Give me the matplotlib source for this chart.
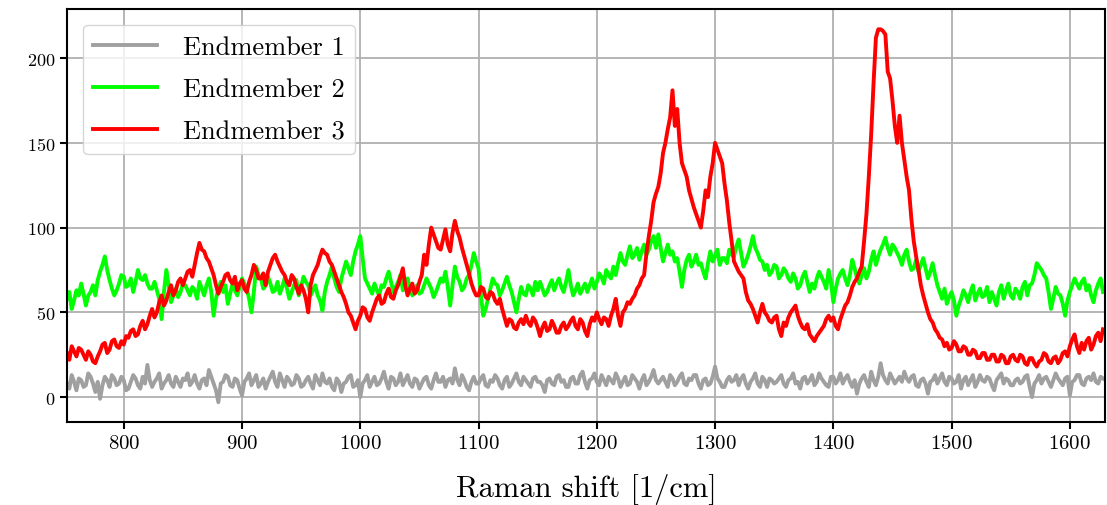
import numpy as np
import matplotlib
matplotlib.use("Agg")
import matplotlib.pyplot as plt

plt.rcParams['font.family'] = ['cmr10', 'DejaVu Serif']
plt.rcParams['mathtext.fontset'] = 'cm'
plt.rcParams['axes.formatter.use_mathtext'] = True

# Raman shift grid [1/cm], one sample every 2 units (rows cover 100 units each)
shift = np.arange(752, 1629, 2)

endmember_1 = [
    8, 5, 13, 9, 4, 11, 10, 6, 7, 14, 12, 8, 3, 9, -1, 7, 12, 10, 6, 13, 11, 7, 8, 12, 10,
    4, 5, 9, 13, 11, 7, 5, 12, 8, 19, 10, 6, 9, 11, 14, 5, 8, 10, 13, 8, 6, 12, 9, 6, 11,
    10, 14, 7, 9, 13, 8, 5, 10, 11, 7, 16, 12, 8, 4, -3, 8, 9, 13, 12, 7, 6, 11, 10, 5, 1,
    9, 11, 14, 7, 10, 13, 6, 8, 11, 5, 9, 12, 15, 9, 6, 14, 10, 6, 12, 10, 7, 8, 13, 11, 6,
    7, 10, 12, 8, 5, 13, 10, 7, 14, 9, 8, 11, 6, 4, 11, 9, 3, 8, 9, 12, 13, 6, 7, 10, 0,
    8, 10, 13, 6, 9, 12, 7, 8, 11, 15, 9, 5, 12, 11, 7, 9, 14, 7, 10, 13, 8, 6, 11, 10, 5,
    8, 11, 12, 7, 5, 10, 14, 9, 9, 12, 6, 10, 11, 8, 17, 10, 7, 13, 10, 6, 4, 9, 12, 8, 8,
    11, 13, 7, 6, 10, 9, 13, 11, 7, 5, 10, 12, 6, 8, 11, 14, 9, 7, 12, 10, 8, 6, 11, 12, 9,
    9, 7, 3, 10, 11, 8, 7, 12, 13, 9, 10, 6, 6, 11, 12, 8, 8, 13, 15, 9, 5, 10, 11, 14, 9,
    7, 13, 10, 7, 12, 10, 8, 14, 11, 6, 9, 12, 7, 8, 13, 11, 9, 5, 10, 13, 7, 9, 12, 16, 10,
    8, 10, 12, 9, 6, 13, 11, 7, 9, 12, 14, 8, 7, 11, 10, 13, 13, 8, 5, 10, 11, 7, 8, 12, 18,
    11, 9, 6, 6, 10, 12, 9, 10, 13, 7, 11, 13, 8, 5, 9, 11, 14, 8, 6, 12, 10, 6, 11, 10, 8,
    9, 11, 13, 8, 6, 10, 11, 14, 8, 9, 5, 11, 12, 8, 10, 13, 7, 9, 14, 11, 9, 7, 6, 12, 12,
    8, 10, 14, 8, 11, 13, 9, 6, 10, 2, 8, 11, 13, 9, 6, 15, 10, 7, 12, 20, 13, 10, 8, 14, 11,
    8, 10, 12, 9, 15, 11, 9, 12, 13, 7, 6, 10, 11, 8, 2, 9, 10, 13, 8, 11, 14, 9, 7, 12, 11,
    8, 9, 13, 5, 10, 12, 7, 10, 13, 6, 9, 13, 10, 9, 12, 11, 7, 4, 10, 12, 14, 8, 11, 10, 7,
    7, 10, 11, 8, 9, 12, 13, 6, 0, 8, 10, 13, 8, 11, 12, 9, 6, 10, 14, 11,
    9, 7, 11, 12, 1, 9, 10, 13, 13, 8, 7, 11, 12, 10, 14, 9, 8, 12, 11,
]

endmember_2 = [
    58, 62, 52, 57, 63, 60, 67, 61, 54, 60, 62, 66, 60, 69, 74, 78, 83, 75, 69, 64, 60, 63, 67, 72, 71,
    65, 66, 70, 62, 68, 75, 70, 69, 72, 67, 64, 64, 68, 63, 58, 46, 62, 75, 66, 56, 60, 64, 59, 62, 67,
    66, 63, 60, 65, 63, 58, 68, 64, 60, 66, 70, 62, 48, 58, 64, 68, 62, 66, 55, 61, 67, 63, 60, 65, 70,
    67, 64, 58, 50, 62, 77, 72, 70, 64, 66, 71, 67, 62, 63, 68, 61, 65, 70, 64, 58, 62, 66, 69, 60, 65,
    71, 68, 66, 60, 63, 66, 60, 57, 51, 62, 68, 72, 77, 70, 65, 62, 70, 75, 80, 76, 72, 80, 86, 90, 95,
    82, 70, 67, 64, 61, 67, 63, 60, 66, 65, 70, 74, 68, 62, 65, 68, 72, 63, 67, 70, 64, 60, 63, 66, 61,
    62, 66, 70, 67, 64, 59, 62, 66, 70, 68, 74, 65, 54, 66, 77, 71, 68, 63, 65, 70, 72, 78, 85, 80, 76,
    60, 48, 52, 58, 64, 70, 67, 66, 60, 63, 67, 71, 66, 62, 56, 50, 58, 65, 61, 60, 66, 64, 60, 68, 63,
    68, 64, 60, 62, 66, 69, 63, 67, 70, 65, 62, 68, 75, 66, 60, 63, 67, 61, 64, 67, 62, 66, 70, 64, 68,
    73, 71, 67, 75, 72, 70, 77, 72, 79, 85, 80, 78, 84, 89, 82, 84, 88, 81, 86, 90, 84, 87, 92, 95, 88,
    96, 88, 80, 85, 90, 84, 86, 80, 82, 74, 65, 75, 81, 84, 77, 80, 84, 78, 79, 74, 70, 79, 86, 80, 83,
    87, 78, 82, 82, 79, 87, 84, 83, 89, 93, 85, 77, 80, 84, 89, 95, 88, 85, 81, 80, 75, 78, 72, 74, 78,
    77, 70, 72, 76, 74, 70, 68, 73, 70, 64, 66, 71, 74, 68, 62, 67, 64, 70, 74, 71, 68, 64, 75, 68, 56,
    64, 70, 73, 75, 70, 66, 72, 81, 76, 70, 67, 72, 76, 70, 74, 81, 86, 78, 83, 87, 90, 94, 88, 84, 90,
    88, 85, 82, 78, 84, 87, 80, 75, 76, 81, 74, 78, 82, 76, 70, 74, 79, 72, 66, 62, 58, 64, 55, 59, 62,
    57, 48, 54, 58, 63, 60, 56, 62, 66, 57, 61, 64, 59, 60, 65, 56, 62, 58, 54, 62, 66, 58, 63, 67, 60,
    58, 64, 62, 58, 65, 68, 60, 66, 67, 72, 79, 77, 75, 72, 70, 62, 52, 58, 65, 61,
    60, 55, 48, 57, 62, 66, 70, 67, 64, 68, 70, 63, 66, 60, 56, 63, 67, 70, 62,
]

endmember_3 = [
    26, 22, 30, 27, 24, 29, 28, 25, 22, 27, 25, 21, 20, 24, 27, 31, 32, 26, 28, 33, 34, 30, 29, 33, 31,
    36, 35, 39, 40, 36, 37, 42, 45, 40, 43, 48, 52, 47, 50, 56, 60, 54, 57, 62, 66, 60, 63, 68, 70, 66,
    70, 74, 75, 71, 78, 85, 91, 87, 86, 82, 80, 76, 72, 66, 61, 65, 68, 72, 73, 69, 67, 71, 63, 67, 69,
    64, 62, 68, 72, 78, 75, 70, 70, 73, 66, 74, 78, 82, 84, 80, 77, 74, 72, 68, 66, 72, 70, 65, 61, 66,
    63, 58, 50, 66, 72, 75, 78, 83, 87, 85, 84, 80, 78, 74, 70, 66, 62, 59, 55, 50, 48, 44, 40, 45, 48,
    53, 52, 47, 45, 50, 54, 58, 60, 55, 56, 61, 64, 59, 58, 63, 66, 71, 76, 66, 60, 64, 67, 61, 63, 68,
    72, 84, 78, 90, 100, 96, 92, 88, 87, 93, 99, 90, 86, 97, 104, 98, 94, 88, 83, 78, 73, 67, 63, 60, 60,
    65, 64, 59, 58, 62, 61, 57, 55, 58, 52, 47, 42, 46, 45, 41, 40, 44, 46, 43, 48, 44, 42, 47, 45, 41,
    36, 41, 44, 39, 40, 45, 42, 38, 38, 42, 44, 40, 42, 45, 47, 42, 40, 46, 44, 39, 36, 43, 47, 45, 50,
    46, 43, 47, 46, 42, 48, 52, 58, 48, 42, 50, 52, 56, 55, 58, 60, 64, 66, 70, 72, 85, 95, 104, 115, 120,
    124, 132, 144, 150, 158, 165, 181, 160, 170, 150, 138, 134, 130, 122, 117, 112, 108, 104, 100, 110, 122, 118, 130, 138, 150,
    146, 142, 138, 126, 116, 103, 92, 80, 77, 74, 72, 70, 62, 57, 55, 52, 48, 44, 50, 55, 50, 48, 45, 44, 47,
    48, 40, 36, 44, 42, 47, 50, 52, 54, 48, 44, 41, 40, 43, 37, 35, 33, 36, 38, 40, 42, 46, 48, 45, 47,
    42, 40, 46, 50, 54, 56, 60, 65, 68, 70, 74, 77, 92, 108, 130, 155, 185, 212, 217, 217, 216, 214, 192, 188, 175,
    160, 150, 166, 150, 140, 130, 122, 105, 92, 83, 75, 66, 60, 55, 50, 46, 44, 40, 38, 35, 34, 30, 32, 28, 29,
    33, 31, 27, 27, 30, 29, 25, 25, 28, 27, 23, 23, 26, 26, 22, 22, 25, 25, 21, 21, 25, 24, 20, 20, 24,
    25, 22, 21, 25, 24, 20, 19, 23, 23, 20, 18, 21, 22, 26, 25, 21, 20, 23, 24, 20,
    22, 26, 27, 24, 30, 34, 37, 30, 26, 32, 28, 33, 35, 28, 31, 36, 38, 33, 40,
]

labels = ['Endmember 1', 'Endmember 2', 'Endmember 3']
colors = ['#a0a0a0', '#00ff00', '#ff0000']

fig = plt.figure(figsize=(11.07, 5.06), dpi=100)
ax = fig.add_axes([0.0605, 0.164, 0.938, 0.816])

for series, label, color in zip([endmember_1, endmember_2, endmember_3], labels, colors):
    ax.plot(shift, series, color=color, linewidth=2.8, label=label)

ax.set_xlim(752, 1630)
ax.set_ylim(-14.7, 228.9)
ax.set_xticks([800, 900, 1000, 1100, 1200, 1300, 1400, 1500, 1600])
ax.set_yticks([0, 50, 100, 150, 200])
ax.grid(True, color='#b0b0b0', linewidth=1.3)
ax.set_axisbelow(True)

for spine in ax.spines.values():
    spine.set_linewidth(1.5)
ax.tick_params(axis='both', width=1.5, length=5)
ax.tick_params(axis='x', labelsize=15)
ax.tick_params(axis='y', labelsize=13)

ax.set_xlabel('Raman shift [1/cm]', fontsize=22, labelpad=15)
ax.legend(loc='upper left', fontsize=19, handlelength=2.4, handletextpad=1.0,
          labelspacing=0.7, borderaxespad=0.6, framealpha=0.8)

fig.savefig('out.png', dpi=100)
